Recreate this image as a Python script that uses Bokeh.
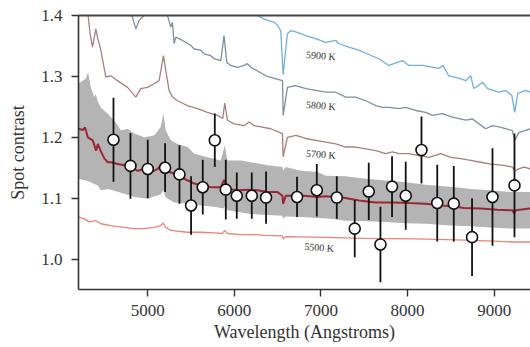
from bokeh.plotting import figure
from bokeh.models import LinearAxis, FixedTicker, Range1d, PrintfTickFormatter
from bokeh.core.properties import value
from bokeh.embed import file_html
from bokeh.resources import INLINE

# ---------------- data ----------------
# observed spot contrast with 1-sigma errors
obs_wl = [4604, 4800, 5000, 5200, 5366, 5500, 5635, 5774, 5901, 6028, 6201, 6366, 6724,
          6952, 7183, 7390, 7552, 7687, 7821, 7979, 8161, 8343, 8534, 8745, 8981, 9235]
obs_c = [1.196, 1.153, 1.148, 1.150, 1.139, 1.088, 1.118, 1.195, 1.114, 1.104, 1.104, 1.101, 1.102,
         1.113, 1.101, 1.050, 1.111, 1.024, 1.119, 1.104, 1.179, 1.092, 1.091, 1.036, 1.102, 1.121]
obs_err = [0.069, 0.054, 0.048, 0.040, 0.048, 0.048, 0.045, 0.044, 0.049, 0.038, 0.038, 0.043, 0.033,
           0.043, 0.035, 0.047, 0.047, 0.062, 0.050, 0.056, 0.055, 0.063, 0.062, 0.064, 0.080, 0.085]

# model spot contrast, 5900 K
t5900_wl = [6150, 6267, 6305, 6382, 6459, 6498, 6536, 6563, 6613, 6651, 6710, 6825, 6940, 7056, 7171,
            7206, 7322, 7437, 7518, 7668, 7783, 7945, 8014, 8176, 8360, 8406, 8476, 8591, 8673,
            8730, 8765, 8868, 8926, 9053, 9134, 9204, 9238, 9273, 9365, 9423]
t5900_c = [1.415, 1.400, 1.397, 1.392, 1.389, 1.384, 1.375, 1.303, 1.370, 1.375, 1.373, 1.367, 1.362,
           1.356, 1.359, 1.354, 1.348, 1.343, 1.338, 1.329, 1.318, 1.326, 1.318, 1.318, 1.313, 1.318,
           1.301, 1.297, 1.293, 1.301, 1.280, 1.290, 1.280, 1.274, 1.277, 1.269, 1.241, 1.272, 1.277, 1.274]

# model spot contrast, 5800 K
t5800_wl = [4700, 4824, 4862, 4900, 4957, 5050, 5180, 5228, 5266, 5285, 5304, 5323, 5362, 5401, 5459,
            5497, 5535, 5612, 5650, 5728, 5766, 5843, 5881, 5912, 5958, 6036, 6112, 6151, 6190,
            6305, 6363, 6479, 6556, 6563, 6613, 6710, 6825, 6940, 7056, 7171, 7287, 7402, 7518,
            7633, 7710, 7787, 7902, 7979, 8095, 8210, 8288, 8403, 8519, 8673, 8750, 8826, 8903,
            8981, 9057, 9211, 9238, 9288, 9423]
t5800_c = [1.420, 1.397, 1.378, 1.392, 1.400, 1.415, 1.440, 1.400, 1.381, 1.389, 1.354, 1.364, 1.362,
           1.359, 1.354, 1.351, 1.345, 1.343, 1.337, 1.334, 1.329, 1.326, 1.367, 1.323, 1.318, 1.315,
           1.318, 1.321, 1.315, 1.306, 1.301, 1.296, 1.293, 1.236, 1.282, 1.285, 1.280, 1.277, 1.274,
           1.274, 1.266, 1.266, 1.260, 1.252, 1.249, 1.249, 1.247, 1.249, 1.244, 1.241, 1.236, 1.239,
           1.233, 1.228, 1.230, 1.222, 1.214, 1.219, 1.217, 1.211, 1.195, 1.208, 1.214]

# model spot contrast, 5700 K
t5700_wl = [4250, 4311, 4334, 4362, 4400, 4419, 4458, 4515, 4573, 4650, 4766, 4862, 4919, 4997, 5073,
            5131, 5181, 5208, 5246, 5285, 5343, 5459, 5574, 5690, 5805, 5866, 5889, 5920, 5997,
            6112, 6170, 6228, 6305, 6420, 6556, 6563, 6613, 6710, 6825, 6940, 7056, 7171, 7287,
            7402, 7518, 7633, 7748, 7826, 7902, 8017, 8133, 8248, 8383, 8499, 8614, 8730, 8845,
            8961, 9114, 9211, 9238, 9284, 9345, 9423]
t5700_c = [1.440, 1.400, 1.370, 1.348, 1.378, 1.364, 1.343, 1.299, 1.301, 1.293, 1.282, 1.266, 1.280,
           1.282, 1.288, 1.293, 1.334, 1.310, 1.277, 1.266, 1.260, 1.252, 1.247, 1.241, 1.236, 1.231,
           1.256, 1.228, 1.222, 1.219, 1.225, 1.219, 1.217, 1.214, 1.206, 1.168, 1.200, 1.203, 1.198,
           1.195, 1.192, 1.189, 1.184, 1.184, 1.181, 1.178, 1.173, 1.176, 1.173, 1.173, 1.170, 1.167,
           1.173, 1.167, 1.165, 1.162, 1.159, 1.156, 1.154, 1.151, 1.145, 1.148, 1.151, 1.148]

# model spot contrast, 5500 K
t5500_wl = [4200, 4265, 4322, 4400, 4458, 4573, 4727, 4842, 4957, 5073, 5150, 5177, 5208, 5266, 5343,
            5459, 5612, 5766, 5863, 5889, 5920, 6074, 6228, 6363, 6556, 6563, 6594, 6940, 7518,
            8095, 8673, 9057, 9230, 9423]
t5500_c = [1.069, 1.066, 1.061, 1.063, 1.058, 1.055, 1.052, 1.050, 1.050, 1.052, 1.055, 1.059, 1.052,
           1.047, 1.046, 1.044, 1.044, 1.043, 1.042, 1.047, 1.042, 1.040, 1.040, 1.039, 1.038, 1.033,
           1.037, 1.036, 1.034, 1.033, 1.031, 1.029, 1.028, 1.028]

# best-fit (mean) model and its uncertainty band
mean_wl = [4200, 4250, 4276, 4307, 4365, 4403, 4423, 4461, 4500, 4538, 4576, 4654, 4731, 4807, 4885,
           4962, 5038, 5116, 5173, 5200, 5251, 5309, 5385, 5462, 5539, 5616, 5728, 5843, 5881,
           5920, 6036, 6151, 6267, 6382, 6498, 6556, 6563, 6594, 6690, 6805, 6960, 7056, 7248,
           7440, 7633, 7826, 8017, 8210, 8403, 8557, 8653, 8845, 9038, 9211, 9230, 9250, 9423]
mean_c = [1.214, 1.212, 1.216, 1.200, 1.195, 1.178, 1.189, 1.176, 1.165, 1.159, 1.159, 1.156, 1.154,
          1.151, 1.145, 1.148, 1.143, 1.148, 1.159, 1.148, 1.143, 1.140, 1.134, 1.129, 1.124, 1.121,
          1.118, 1.118, 1.130, 1.115, 1.113, 1.114, 1.113, 1.110, 1.110, 1.104, 1.091, 1.104, 1.104,
          1.104, 1.102, 1.103, 1.101, 1.096, 1.093, 1.093, 1.092, 1.091, 1.088, 1.086, 1.084, 1.083,
          1.081, 1.080, 1.075, 1.080, 1.083]

band_hi_wl = [4200, 4246, 4284, 4311, 4342, 4380, 4400, 4419, 4458, 4535, 4611, 4692, 4766, 4842, 4957,
              5073, 5150, 5179, 5208, 5266, 5343, 5459, 5539, 5693, 5843, 5889, 5920, 6074, 6190,
              6382, 6556, 6563, 6594, 6767, 6960, 7056, 7287, 7518, 7748, 7979, 8210, 8557, 8730,
              8961, 9191, 9423]
band_hi_c = [1.288, 1.293, 1.296, 1.307, 1.282, 1.266, 1.271, 1.260, 1.249, 1.239, 1.228, 1.211, 1.214,
             1.206, 1.200, 1.203, 1.217, 1.239, 1.211, 1.195, 1.189, 1.184, 1.173, 1.167, 1.162, 1.187,
             1.162, 1.162, 1.159, 1.154, 1.151, 1.145, 1.151, 1.145, 1.143, 1.137, 1.136, 1.132, 1.129,
             1.126, 1.122, 1.118, 1.115, 1.113, 1.110, 1.110]
band_lo_wl = [4200, 4307, 4423, 4458, 4540, 4692, 4845, 4997, 5078, 5150, 5179, 5208, 5306, 5459, 5612,
              5766, 5881, 5889, 5920, 6190, 6556, 6563, 6594, 6767, 7113, 7287, 7518, 7748, 7979,
              8210, 8499, 8730, 8961, 9191, 9423]
band_lo_c = [1.132, 1.128, 1.121, 1.113, 1.115, 1.109, 1.102, 1.099, 1.103, 1.106, 1.113, 1.101, 1.093,
             1.091, 1.088, 1.086, 1.083, 1.088, 1.080, 1.074, 1.071, 1.066, 1.070, 1.069, 1.066, 1.063,
             1.062, 1.061, 1.059, 1.058, 1.055, 1.054, 1.052, 1.050, 1.050]

label_text = ["5900 K", "5800 K", "5700 K", "5500 K"]
label_wl = [7000, 7000, 7000, 6980]
label_c = [1.334, 1.252, 1.172, 1.019]

x_ticks = [5000, 6000, 7000, 8000, 9000]
y_ticks = [1.0, 1.1, 1.2, 1.3, 1.4]

# ---------------- figure ----------------
SERIF = "Liberation Serif"
AX = "#333333"

p = figure(width=530, height=347, output_backend="svg", toolbar_location=None,
           x_range=Range1d(4200, 9420), y_range=Range1d(0.95, 1.4),
           min_border_left=78, min_border_right=0, min_border_top=15, min_border_bottom=58)
p.background_fill_color = "white"
p.border_fill_color = "white"
p.outline_line_color = None
p.grid.visible = False

# uncertainty band
p.patch(band_hi_wl + band_lo_wl[::-1], band_hi_c + band_lo_c[::-1],
        fill_color="#b4b4b4", line_color=None)

# model curves
p.line(t5500_wl, t5500_c, line_color="#ee8274", line_width=1.3)
p.line(t5700_wl, t5700_c, line_color="#a8807b", line_width=1.3)
p.line(t5800_wl, t5800_c, line_color="#7c909f", line_width=1.3)
p.line(t5900_wl, t5900_c, line_color="#6eb0db", line_width=1.3)
p.line(mean_wl, mean_c, line_color="#9c2634", line_width=2)

# labels
p.text(x=label_wl, y=label_c, text=label_text, text_font=value(SERIF), text_font_size="10px",
       text_color="#333333", text_align="center", text_baseline="middle", angle=-0.08)

# error bars and points
lo = [c - e for c, e in zip(obs_c, obs_err)]
hi = [c + e for c, e in zip(obs_c, obs_err)]
p.segment(x0=obs_wl, y0=lo, x1=obs_wl, y1=hi, line_color="#111111", line_width=1.8)
p.scatter(obs_wl, obs_c, size=11, marker="circle", fill_color="white",
          line_color="#111111", line_width=1.6)

# axes styling
for ax in (p.xaxis[0], p.yaxis[0]):
    ax.axis_line_color = AX
    ax.axis_line_width = 1.6
    ax.major_tick_line_color = AX
    ax.major_tick_line_width = 1.4
    ax.major_tick_out = 7
    ax.major_tick_in = 0
    ax.minor_tick_line_color = None
    ax.major_label_text_font = SERIF
    ax.major_label_text_font_size = "17px"
    ax.major_label_text_color = "#333333"
    ax.axis_label_text_font = SERIF
    ax.axis_label_text_font_size = "18px"
    ax.axis_label_text_font_style = "normal"
    ax.axis_label_text_color = "#333333"

p.xaxis[0].ticker = FixedTicker(ticks=x_ticks)
p.yaxis[0].ticker = FixedTicker(ticks=y_ticks)
p.yaxis[0].formatter = PrintfTickFormatter(format="%.1f")
p.xaxis[0].axis_label = "Wavelength (Angstroms)"
p.yaxis[0].axis_label = "Spot contrast"
p.xaxis[0].major_label_standoff = 8
p.xaxis[0].axis_label_standoff = 3
p.yaxis[0].major_label_standoff = 9
p.yaxis[0].axis_label_standoff = 10

top = LinearAxis(ticker=FixedTicker(ticks=[]), axis_line_color="#444444", axis_line_width=2,
                 major_tick_line_color=None, minor_tick_line_color=None,
                 major_label_text_font_size="0px")
p.add_layout(top, "above")

open("out.html", "w").write(file_html(p, INLINE))
